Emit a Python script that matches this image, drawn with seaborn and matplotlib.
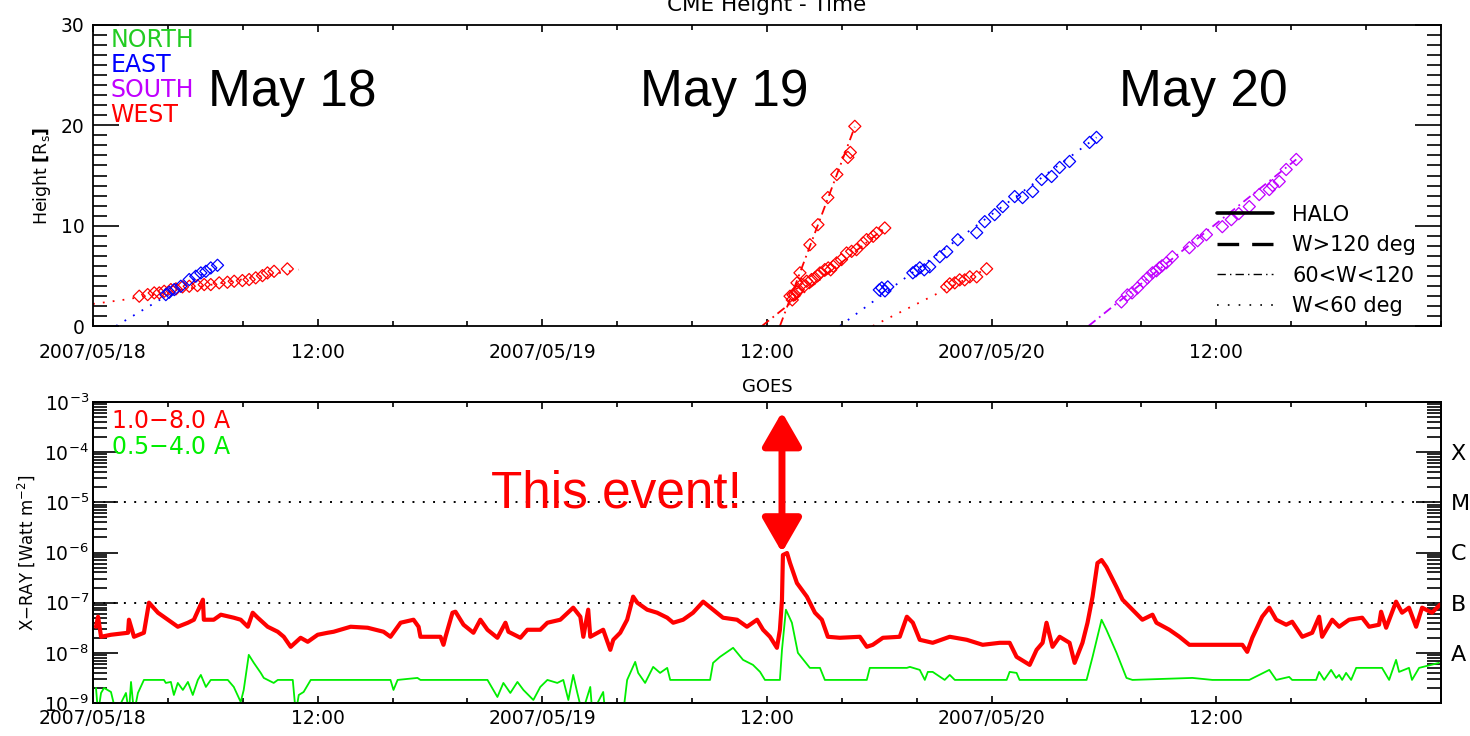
import numpy as np
import matplotlib
matplotlib.use("Agg")
import matplotlib.pyplot as plt
from matplotlib.ticker import MultipleLocator, LogLocator, NullLocator, NullFormatter
from matplotlib.lines import Line2D
import seaborn as sns

# ---------------- data ----------------
# time axis: hours after 2007-05-18 00:00 UT
xtick_hours = [0, 12, 24, 36, 48, 60]
xtick_labels = ["2007/05/18", "12:00", "2007/05/19", "12:00", "2007/05/20", "12:00"]

# CME height-time measurements (hours, solar radii)
west1_t = [2.47, 2.92, 3.27, 3.54, 3.80, 4.16, 4.43, 4.78, 5.14, 5.58, 5.94, 6.29, 6.74, 7.18,
           7.54, 7.98, 8.34, 8.69, 9.05, 9.32, 9.67, 10.38]
west1_h = [2.97, 3.13, 3.30, 3.30, 3.46, 3.63, 3.70, 3.90, 3.96, 4.03, 4.13, 4.13, 4.30, 4.36,
           4.46, 4.53, 4.63, 4.80, 5.02, 5.29, 5.45, 5.69]
west1_fit_t = [0.0, 1.75, 11.0]
west1_fit_h = [2.2, 2.64, 5.62]

east1_t = [3.89, 4.07, 4.34, 4.69, 5.14, 5.49, 5.76, 6.03, 6.29, 6.65]
east1_h = [3.13, 3.36, 3.63, 3.96, 4.63, 4.96, 5.29, 5.45, 5.79, 6.05]
east1_fit_t = [1.23, 6.65]
east1_fit_h = [0.0, 6.05]

west2_t = [37.39, 37.60, 37.76, 38.29, 38.72, 39.25, 39.73, 40.32, 40.45, 40.69]
west2_h = [3.1, 4.3, 5.3, 8.1, 10.1, 12.8, 15.1, 16.8, 17.3, 19.9]
west2_fit_t = [36.69, 40.69]
west2_fit_h = [0.0, 19.85]

west3_t = [37.23, 37.35, 37.49, 37.60, 37.67, 37.85, 38.00, 38.12, 38.38, 38.56, 38.70, 38.83,
           39.09, 39.27, 39.40, 39.54, 39.72, 39.98, 40.25, 40.52, 40.78, 41.14, 41.32, 41.67,
           41.85, 42.29]
west3_h = [2.97, 2.6, 3.13, 3.4, 3.63, 4.13, 4.0, 4.46, 4.63, 4.80, 5.0, 5.29,
           5.62, 5.79, 5.6, 5.95, 6.29, 6.62, 7.28, 7.44, 7.61, 8.28, 8.61, 8.94,
           9.27, 9.77]
west3_fit_t = [35.73, 42.29]
west3_fit_h = [0.0, 9.77]

east2_t = [42.0, 42.13, 42.3, 42.45, 43.79, 43.95, 44.16, 44.4, 44.69, 45.23, 45.60, 46.19, 47.20,
           47.63, 48.16, 48.59, 49.23, 49.65, 50.19, 50.67, 51.20, 51.63, 52.16, 53.23, 53.60]
east2_h = [3.6, 3.8, 3.5, 3.9, 5.3, 5.5, 5.8, 5.6, 5.9, 6.9, 7.4, 8.6, 9.3,
           10.4, 11.1, 11.9, 12.9, 12.8, 13.4, 14.6, 14.9, 15.8, 16.4, 18.3, 18.8]
east2_fit_t = [39.89, 53.60]
east2_fit_h = [0.0, 18.8]

west4_t = [45.60, 45.76, 46.03, 46.29, 46.56, 46.83, 47.20, 47.73]
west4_h = [3.9, 4.2, 4.3, 4.6, 4.6, 4.9, 4.9, 5.7]
west4_fit_t = [41.65, 47.73]
west4_fit_h = [0.0, 5.7]

south1_t = [54.93, 55.25, 55.5, 55.79, 56.1, 56.32, 56.59, 56.8, 56.96, 57.1, 57.33, 57.65, 58.56,
            59.0, 59.47, 60.32, 60.80, 61.2, 61.76, 62.29, 62.83, 63.0, 63.36, 63.73, 64.27]
south1_h = [2.4, 3.1, 3.3, 3.8, 4.4, 4.8, 5.3, 5.5, 5.8, 6.0, 6.3, 6.9, 7.8,
            8.5, 9.1, 9.9, 10.6, 11.2, 11.9, 13.1, 13.6, 14.0, 14.4, 15.6, 16.6]
south1_fit_t = [53.17, 64.27]
south1_fit_h = [0.0, 16.6]

# GOES X-ray flux, log10(W m^-2)
goes_long_t = [0.16, 0.27, 0.43, 0.96, 1.87, 1.92, 2.19, 2.72, 2.99, 3.47, 4.00, 4.53, 5.07, 5.39,
               5.87, 5.92, 6.45, 6.83, 7.52, 7.89, 8.27, 8.53, 8.80, 9.33, 9.87, 10.19, 10.56,
               11.09, 11.47, 12.00, 12.53, 12.85, 13.76, 14.67, 15.52, 15.89, 16.43, 17.12, 17.39,
               17.49, 18.56, 18.72, 18.83, 19.20, 19.36, 19.79, 20.32, 20.69, 21.07, 21.60, 22.03,
               22.19, 22.83, 23.20, 23.89, 24.27, 24.96, 25.65, 26.03, 26.19, 26.45, 26.56, 27.25,
               27.63, 27.79, 28.16, 28.53, 28.85, 29.07, 29.60, 30.13, 30.67, 30.99, 31.52, 32.05,
               32.59, 33.12, 33.65, 34.40, 34.93, 35.47, 35.79, 36.16, 36.53, 36.69, 36.80, 36.85,
               37.07, 37.23, 37.60, 38.13, 38.56, 38.93, 39.25, 39.89, 40.96, 41.33, 41.65, 42.19,
               43.09, 43.47, 43.79, 44.16, 44.85, 45.76, 46.67, 47.52, 48.43, 48.96, 49.33, 50.03,
               50.40, 50.72, 50.93, 51.25, 51.63, 52.16, 52.43, 52.85, 53.12, 53.39, 53.65, 53.87,
               54.13, 54.67, 54.99, 55.52, 56.05, 56.59, 56.80, 57.49, 58.03, 58.56, 60.00, 61.39,
               61.65, 61.92, 62.45, 62.83, 63.20, 63.73, 64.05, 64.59, 65.12, 65.49, 65.65, 66.19,
               66.56, 67.09, 67.79, 68.16, 68.69, 68.80, 69.07, 69.60, 69.92, 70.29, 70.67, 70.99,
               71.52, 71.95]
goes_long_log = [-7.48, -7.28, -7.68, -7.64, -7.60, -7.34, -7.68, -7.60, -7.00, -7.20, -7.34, -7.48,
                 -7.40, -7.34, -6.94, -7.34, -7.34, -7.24, -7.30, -7.34, -7.48, -7.20, -7.30, -7.48,
                 -7.58, -7.68, -7.88, -7.70, -7.78, -7.64, -7.60, -7.58, -7.48, -7.50, -7.58, -7.68,
                 -7.40, -7.34, -7.48, -7.68, -7.68, -7.84, -7.68, -7.20, -7.18, -7.44, -7.60, -7.34,
                 -7.54, -7.70, -7.40, -7.58, -7.70, -7.54, -7.54, -7.40, -7.34, -7.10, -7.28, -7.68,
                 -7.14, -7.68, -7.54, -7.94, -7.74, -7.60, -7.34, -6.88, -7.00, -7.14, -7.20, -7.30,
                 -7.40, -7.34, -7.20, -6.98, -7.14, -7.30, -7.34, -7.48, -7.34, -7.54, -7.68, -7.90,
                 -7.54, -6.94, -6.05, -6.01, -6.21, -6.61, -6.88, -7.20, -7.34, -7.68, -7.70, -7.68,
                 -7.88, -7.84, -7.70, -7.68, -7.28, -7.40, -7.74, -7.80, -7.68, -7.74, -7.84, -7.80,
                 -7.80, -8.08, -8.24, -7.94, -7.80, -7.40, -7.88, -7.68, -7.80, -8.20, -7.80, -7.40,
                 -6.88, -6.21, -6.15, -6.29, -6.69, -6.94, -7.14, -7.34, -7.24, -7.40, -7.54, -7.68,
                 -7.84, -7.84, -7.84, -7.98, -7.70, -7.28, -7.10, -7.34, -7.44, -7.38, -7.68, -7.60,
                 -7.28, -7.68, -7.34, -7.48, -7.34, -7.30, -7.48, -7.44, -7.18, -7.50, -6.98, -7.20,
                 -7.10, -7.48, -7.10, -7.20, -7.04]

goes_short_t = [0.16, 0.27, 0.43, 0.59, 0.96, 1.23, 1.76, 1.92, 2.03, 2.19, 2.40, 2.72, 3.79, 3.89,
                4.16, 4.32, 4.53, 4.80, 5.07, 5.33, 5.60, 5.76, 6.03, 6.29, 7.20, 7.52, 7.89, 8.05,
                8.32, 8.59, 8.96, 9.12, 9.65, 9.87, 10.67, 10.83, 10.99, 11.25, 11.63, 15.89, 16.05,
                16.27, 17.33, 17.49, 21.07, 21.60, 21.92, 22.29, 22.67, 22.99, 23.52, 23.89, 24.27,
                24.80, 25.12, 25.39, 25.65, 25.87, 26.13, 26.56, 26.67, 27.25, 27.36, 28.32, 28.53,
                28.96, 29.12, 29.49, 29.92, 30.29, 30.67, 30.83, 32.96, 33.12, 33.49, 34.19, 34.72,
                35.25, 35.63, 35.89, 36.69, 36.80, 37.01, 37.33, 37.65, 38.29, 38.83, 39.09, 41.33,
                41.49, 43.47, 43.63, 44.16, 44.43, 44.59, 44.85, 45.49, 45.76, 46.03, 48.80, 48.96,
                49.33, 49.49, 53.07, 53.39, 53.87, 54.13, 54.67, 55.20, 55.52, 58.72, 59.79, 61.76,
                62.83, 63.20, 63.89, 64.05, 65.33, 65.49, 65.76, 66.13, 66.40, 66.56, 66.72, 66.93,
                67.20, 67.47, 68.85, 69.23, 69.60, 69.76, 70.29, 70.45, 70.83, 71.89]
goes_short_log = [-8.70, -9.2, -8.80, -8.70, -8.78, -9.2, -8.80, -9.2, -8.58, -9.2, -8.80, -8.54,
                  -8.54, -8.60, -8.58, -8.84, -8.60, -8.74, -8.58, -8.84, -8.54, -8.44, -8.68, -8.54,
                  -8.54, -8.68, -8.98, -8.74, -8.04, -8.20, -8.40, -8.50, -8.60, -8.54, -8.54, -9.2,
                  -8.84, -8.78, -8.54, -8.54, -8.74, -8.54, -8.50, -8.54, -8.54, -8.88, -8.60, -8.80,
                  -8.58, -8.74, -8.94, -8.68, -8.54, -8.60, -8.54, -8.94, -8.44, -8.80, -9.2, -8.68,
                  -9.2, -8.78, -9.2, -9.2, -8.54, -8.18, -8.40, -8.60, -8.28, -8.40, -8.30, -8.54,
                  -8.54, -8.20, -8.08, -7.90, -8.14, -8.24, -8.38, -8.54, -8.54, -7.94, -7.14, -7.40,
                  -8.00, -8.30, -8.30, -8.54, -8.54, -8.30, -8.30, -8.28, -8.34, -8.54, -8.38, -8.38,
                  -8.54, -8.44, -8.54, -8.54, -8.38, -8.40, -8.54, -8.54, -8.08, -7.34, -7.54, -8.00,
                  -8.50, -8.54, -8.50, -8.54, -8.54, -8.34, -8.54, -8.48, -8.54, -8.54, -8.38, -8.54,
                  -8.34, -8.50, -8.44, -8.54, -8.40, -8.54, -8.30, -8.30, -8.54, -8.14, -8.38, -8.30,
                  -8.54, -8.30, -8.20]

goes_class_labels = ["A", "B", "C", "M", "X"]
goes_class_levels = [1e-8, 1e-7, 1e-6, 1e-5, 1e-4]
goes_ref_lines = [1e-7, 1e-5]
event_time = 36.8
event_flux_range = [1.0e-6, 6.3e-4]

RED, GREEN, BLUE, PURPLE = "#ff0000", "#00ee00", "#0000ff", "#c000ff"
DOT = (0, (1, 4.5))
DASHDOT = (0, (5, 2.5, 1, 2.5))

cmes = [
    (west1_t, west1_h, west1_fit_t, west1_fit_h, RED, DOT),
    (east1_t, east1_h, east1_fit_t, east1_fit_h, BLUE, DOT),
    (west2_t, west2_h, west2_fit_t, west2_fit_h, RED, DASHDOT),
    (west3_t, west3_h, west3_fit_t, west3_fit_h, RED, DASHDOT),
    (east2_t, east2_h, east2_fit_t, east2_fit_h, BLUE, DOT),
    (west4_t, west4_h, west4_fit_t, west4_fit_h, RED, DOT),
    (south1_t, south1_h, south1_fit_t, south1_fit_h, PURPLE, DASHDOT),
]

# ---------------- style ----------------
sns.set_style("ticks")
plt.rcParams["font.family"] = ["DejaVu Sans"]
plt.rcParams["axes.linewidth"] = 1.3
for key in ["text.color", "axes.labelcolor", "xtick.color", "ytick.color", "axes.edgecolor"]:
    plt.rcParams[key] = "black"

W, H = 1470, 736
fig = plt.figure(figsize=(W / 100, H / 100), dpi=100)
ax1 = fig.add_axes([93 / W, 1 - 326 / H, (1441 - 93) / W, (326 - 25) / H])
ax2 = fig.add_axes([93 / W, 1 - 703 / H, (1441 - 93) / W, (703 - 402) / H])

# ---------------- top: CME height-time ----------------
for t, h, ft, fh, c, ls in cmes:
    sns.lineplot(x=ft, y=fh, color=c, linestyle=ls, lw=1.3, estimator=None, sort=False,
                 ax=ax1, zorder=2)
    sns.scatterplot(x=t, y=h, marker="D", s=38, color=c, facecolor="none", edgecolor=c,
                    linewidth=0.9, ax=ax1, zorder=3)

ax1.set_xlim(0, 72)
ax1.set_ylim(0, 30)
ax1.set_xticks(xtick_hours, labels=xtick_labels)
ax1.xaxis.set_minor_locator(MultipleLocator(4))
ax1.yaxis.set_major_locator(MultipleLocator(10))
ax1.yaxis.set_minor_locator(MultipleLocator(1))
ax1.tick_params(axis="both", which="both", direction="in", top=True, right=True, width=1.2,
                labelsize=13.5)
ax1.tick_params(axis="y", which="major", length=19, pad=6)
ax1.tick_params(axis="y", which="minor", length=10)
ax1.tick_params(axis="x", which="major", length=5, pad=12)
ax1.tick_params(axis="x", which="minor", length=3.6)
ax1.set_xlabel("")
ax1.set_ylabel(r"Height $\mathbf{[}$R$_{\mathrm{s}}\mathbf{]}$", fontsize=12.5)
ax1.yaxis.set_label_coords(-0.030, 0.5)

for i, (name, col) in enumerate(zip(["NORTH", "EAST", "SOUTH", "WEST"],
                                     ["#22cc22", BLUE, PURPLE, RED])):
    ax1.text(0.013, 0.95 - i * 0.0835, name, color=col, fontsize=17,
             transform=ax1.transAxes, ha="left", va="center")

for lab, xf in zip(["May 18", "May 19", "May 20"], [0.1476, 0.468, 0.824]):
    ax1.text(xf, 0.731, lab, fontsize=37, family="Liberation Sans", color="black",
             ha="center", va="baseline", transform=ax1.transAxes)

handles = [Line2D([], [], color="black", lw=2.6, ls="-"),
           Line2D([], [], color="black", lw=2.4, ls=(0, (6.5, 3.9))),
           Line2D([], [], color="black", lw=1.0, ls=(0, (6, 3, 1, 3))),
           Line2D([], [], color="black", lw=1.2, ls=(0, (1, 5.5)))]
ax1.legend(handles, ["HALO", "W>120 deg", "60<W<120", "W<60 deg"], loc="upper left",
           bbox_to_anchor=(0.834, 0.403), frameon=False, fontsize=15, handlelength=2.7,
           handletextpad=0.9, labelspacing=0.5, borderpad=0, borderaxespad=0)

fig.text(767 / W, 1 - 11 / H, "CME Height - Time", ha="center", va="baseline", fontsize=15.5)

# ---------------- bottom: GOES ----------------
ax2.set_yscale("log")
ax2r = ax2.twinx()
ax2r.set_yscale("log")

sns.lineplot(x=goes_short_t, y=10 ** np.array(goes_short_log), color=GREEN, lw=1.3,
             estimator=None, sort=False, ax=ax2, zorder=3)
sns.lineplot(x=goes_long_t, y=10 ** np.array(goes_long_log), color=RED, lw=3.0,
             estimator=None, sort=False, ax=ax2, zorder=4)
for lvl in goes_ref_lines:
    ax2.axhline(lvl, color="black", lw=1.4, ls=(0, (1, 4.3)), zorder=1)

ax2.set_xlim(0, 72)
ax2.set_ylim(1e-9, 1e-3)
ax2.set_xticks(xtick_hours, labels=xtick_labels)
ax2.xaxis.set_minor_locator(MultipleLocator(4))
ax2.yaxis.set_major_locator(LogLocator(base=10, numticks=12))
ax2.yaxis.set_minor_locator(LogLocator(base=10, subs=np.arange(2, 10), numticks=12))
ax2.yaxis.set_minor_formatter(NullFormatter())
ax2.tick_params(axis="both", which="both", direction="in", top=True, right=True,
                labelright=False, width=1.2, labelsize=13.5)
ax2.tick_params(axis="y", which="major", length=18, pad=3)
ax2.tick_params(axis="y", which="minor", length=10)
ax2.tick_params(axis="x", which="major", length=5, pad=4)
ax2.tick_params(axis="x", which="minor", length=3.6)
ax2.set_xlabel("")
ax2.set_ylabel(r"X$-$RAY [Watt m$^{-2}$]", fontsize=12)
ax2.yaxis.set_label_coords(-0.0415, 0.5)
ax2.set_title("GOES", fontsize=13, pad=7)

ax2r.set_ylim(1e-9, 1e-3)
ax2r.set_yticks(goes_class_levels, labels=goes_class_labels)
ax2r.yaxis.set_minor_locator(NullLocator())
ax2r.tick_params(axis="y", length=0, pad=7, labelsize=16)

ax2.text(0.013, 0.937, "1.0$-$8.0 A", color=RED, fontsize=17, transform=ax2.transAxes,
         ha="left", va="center")
ax2.text(0.013, 0.850, "0.5$-$4.0 A", color=GREEN, fontsize=17, transform=ax2.transAxes,
         ha="left", va="center")

ax2.text(0.388, 0.651, "This event!", color=RED, fontsize=37, family="Liberation Sans",
         ha="center", va="baseline", transform=ax2.transAxes)
ax2.annotate("", xy=(event_time, event_flux_range[0]), xytext=(event_time, event_flux_range[1]),
             arrowprops=dict(arrowstyle="<|-|>,head_length=1.3,head_width=0.75", color=RED,
                             lw=5, shrinkA=0, shrinkB=0, mutation_scale=16),
             zorder=6)

fig.savefig("out.png", dpi=100)
